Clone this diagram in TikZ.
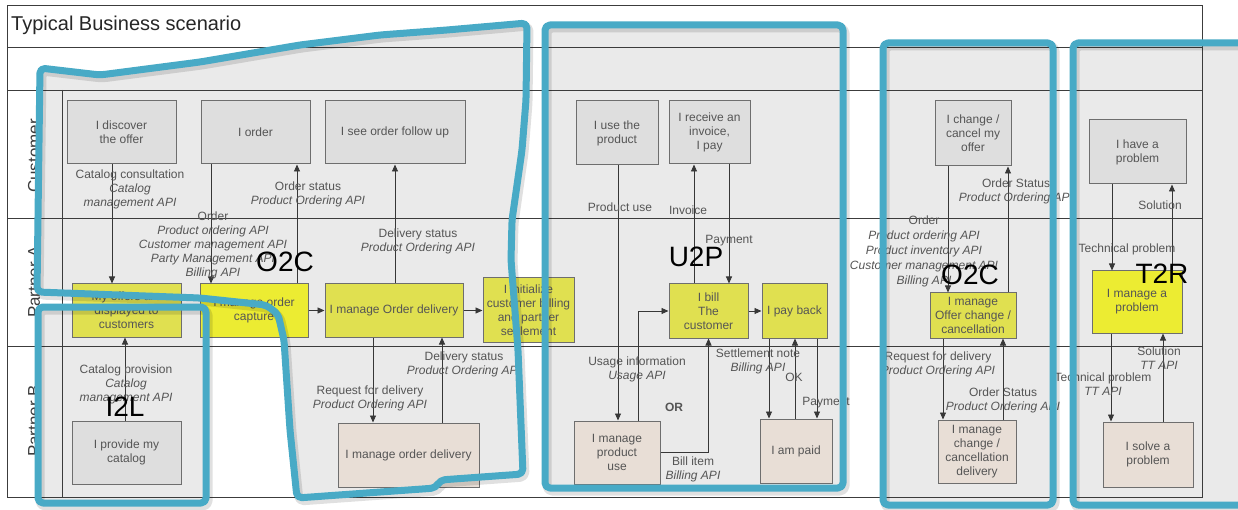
\documentclass[tikz,border=0pt]{standalone}
\usepackage{fontspec}
\setmainfont{Liberation Sans}
\usetikzlibrary{arrows.meta}
\definecolor{bluehl}{RGB}{72,170,198}
\definecolor{shadeg}{RGB}{234,234,234}
\definecolor{gboxc}{RGB}{222,222,222}
\definecolor{yboxc}{RGB}{224,224,80}
\definecolor{ybright}{RGB}{236,236,50}
\definecolor{bboxc}{RGB}{232,222,214}
\definecolor{txtc}{RGB}{85,85,85}
\definecolor{edgec}{RGB}{110,110,110}
\definecolor{gridc}{RGB}{60,60,60}
\definecolor{arrc}{RGB}{55,55,55}
\newcommand*\hlOA{(40,68) -- (100,75) -- (200,62) -- (300,45) -- (380,35) -- (447,30) -- (527,23) -- (526,100) -- (522,150) -- (512,220) -- (511,260) -- (518,350) -- (523,474) -- (440,480) -- (436,488) -- (297,498) -- (290,430) -- (284,340) -- (278,314) -- (266,305) -- (200,298) -- (37,292) -- cycle}
\newcommand*\hlIL{(38,307) rectangle (206,503)}
\newcommand*\hlUP{(545,25) rectangle (843,488)}
\newcommand*\hlOB{(883,43) rectangle (1053,505)}
\newcommand*\hlTR{(1260,43) -- (1073,43) -- (1073,505) -- (1260,505)}
\begin{document}
\begin{tikzpicture}[x=1pt,y=-1pt,
  box/.style={draw=edgec, line width=1pt, align=center, inner sep=1pt, text=txtc, font=\fontsize{12}{14}\selectfont},
  gb/.style={box, fill=gboxc},
  yb/.style={box, fill=yboxc},
  bb/.style={box, fill=bboxc},
  lbl/.style={align=center, inner sep=0pt, text=txtc, font=\fontsize{12}{14}\selectfont},
  arr/.style={draw=arrc, line width=0.9pt, -{Triangle[length=7pt,width=6pt]}},
  hl/.style={draw=bluehl, line width=7pt, rounded corners=5pt, line join=round},
  hlsh/.style={draw=black, opacity=0.12, line width=9pt, rounded corners=5pt, line join=round},
  gridl/.style={draw=gridc, line width=0.9pt},
  big/.style={font=\fontsize{28}{30}\selectfont, text=black, inner sep=0pt},
  lane/.style={font=\fontsize{17}{19}\selectfont, text=gridc, rotate=90, inner sep=0pt},
]
\useasboundingbox (0,0) rectangle (1238,510);
\begin{scope}
\clip (0,0) rectangle (1238,510);
\fill[white] (0,0) rectangle (1238,510);
\fill[shadeg] \hlOA;
\fill[shadeg] \hlIL;
\fill[shadeg] \hlUP;
\fill[shadeg] \hlOB;
\fill[shadeg] (1260,43) rectangle (1073,505);
\end{scope}

% frame and lanes
\draw[gridl] (7,5) rectangle (1202,497);
\draw[gridl] (7,47) -- (1202,47);
\draw[gridl] (7,90) -- (1202,90);
\draw[gridl] (7,218) -- (1202,218);
\draw[gridl] (7,346) -- (1202,346);
\draw[gridl] (62,90) -- (62,497);
\node[anchor=west, inner sep=0pt, font=\fontsize{20}{22}\selectfont, text=black!85] (title) at (11,25) {Typical Business scenario};
\node[lane] (lcust) at (34,156) {Customer};
\node[lane] (lpa) at (34,282) {Partner A};
\node[lane] (lpb) at (34,421) {Partner B};

% Customer lane
\node[gb, minimum width=109pt, minimum height=63pt] (disc) at (121.5,132.5) {I discover\\the offer};
\node[gb, minimum width=109pt, minimum height=63pt] (order) at (255.5,132.5) {I order};
\node[gb, minimum width=140pt, minimum height=63pt] (follow) at (395,132.5) {I see order follow up};
\node[gb, minimum width=82pt, minimum height=64pt] (use) at (617,133) {I use the\\product};
\node[gb, minimum width=81pt, minimum height=63pt] (recv) at (709.5,132.5) {I receive an\\invoice,\\I pay};
\node[gb, minimum width=76pt, minimum height=65pt] (chg) at (973,133.5) {I change /\\cancel my\\offer};
\node[gb, minimum width=97pt, minimum height=64pt] (have) at (1137.5,152) {I have a\\problem};

% Partner A lane
\node[yb, minimum width=109pt, minimum height=53pt] (offers) at (126.5,310.5) {My offers are\\displayed to\\customers};
\node[yb, fill=ybright, minimum width=108pt, minimum height=53pt] (capture) at (254,310.5) {I manage order\\capture};
\node[yb, minimum width=138pt, minimum height=53pt] (mod) at (394,310.5) {I manage Order delivery};
\node[yb, minimum width=91pt, minimum height=64pt] (init) at (528.5,310) {I initialize\\customer billing\\and partner\\settlement};
\node[yb, minimum width=79pt, minimum height=54pt] (bill) at (708.5,311) {I bill\\The\\customer};
\node[yb, minimum width=65pt, minimum height=54pt] (payback) at (794.5,311) {I pay back};
\node[yb, minimum width=86pt, minimum height=45pt] (offchg) at (973,315.5) {I manage\\Offer change /\\cancellation};
\node[yb, fill=ybright, minimum width=90pt, minimum height=62pt] (mprob) at (1137,302) {I manage a\\problem};

% Partner B lane
\node[gb, minimum width=109pt, minimum height=63pt] (prov) at (126.5,452.5) {I provide my\\catalog};
\node[bb, minimum width=141pt, minimum height=64pt] (mdel) at (408.5,455) {I manage order delivery};
\node[bb, minimum width=86pt, minimum height=63pt] (mpu) at (617,452.5) {I manage\\product\\use};
\node[bb, minimum width=72pt, minimum height=64pt] (paid) at (796,451) {I am paid};
\node[bb, minimum width=78pt, minimum height=63pt] (ccd) at (977,451.5) {I manage\\change /\\cancellation\\delivery};
\node[bb, minimum width=90pt, minimum height=65pt] (solve) at (1148,454.5) {I solve a\\problem};

% connectors
\draw[arr] (disc.south -| 112,0) -- (offers.north -| 112,0);
\draw[arr] (order.south -| 211,0) -- (capture.north -| 211,0);
\draw[arr] (capture.north -| 297,0) -- (order.south -| 297,0);
\draw[arr] (capture.east) -- (mod.west);
\draw[arr] (mod.north -| 395,0) -- (follow.south -| 395,0);
\draw[arr] (mod.east) -- (mod.east -| init.west);
\draw[arr] (mod.south -| 373,0) -- (mdel.north -| 373,0);
\draw[arr] (mdel.north -| 442,0) -- (mod.south -| 442,0);
\draw[arr] (prov.north -| 125,0) -- (offers.south -| 125,0);
\draw[arr] (use.south -| 618,0) -- (mpu.north -| 618,0);
\draw[arr] (mpu.north -| 638,0) |- (bill.west);
\draw[arr] (mpu.east) -| (bill.south);
\draw[arr] (bill.north -| 694,0) -- (recv.south -| 694,0);
\draw[arr] (recv.south -| 729,0) -- (bill.north -| 729,0);
\draw[arr] (bill.east) -- (payback.west);
\draw[arr] (payback.south -| 769,0) -- (paid.north -| 769,0);
\draw[arr] (paid.north -| 795,0) -- (payback.south -| 795,0);
\draw[arr] (payback.south -| 817,0) -- (paid.north -| 817,0);
\draw[arr] (chg.south -| 948,0) -- (offchg.north -| 948,0);
\draw[arr] (offchg.north -| 1008,0) -- (chg.south -| 1008,0);
\draw[arr] (offchg.south -| 943,0) -- (ccd.north -| 943,0);
\draw[arr] (ccd.north -| 1003,0) -- (offchg.south -| 1003,0);
\draw[arr] (have.south -| 1112,0) -- (mprob.north -| 1112,0);
\draw[arr] (mprob.north -| 1172,0) -- (have.south -| 1172,0);
\draw[arr] (mprob.south -| 1111,0) -- (solve.north -| 1111,0);
\draw[arr] (solve.north -| 1163,0) -- (mprob.south -| 1163,0);

% connector labels
\node[lbl] (l1) at (130,189) {Catalog consultation\\\textit{Catalog}\\\textit{management API}};
\node[lbl] (l2) at (213,245) {Order\\\textit{Product ordering API}\\\textit{Customer management API}\\\textit{Party Management API}\\\textit{Billing API}};
\node[lbl] (l3) at (308,194) {Order status\\\textit{Product Ordering API}};
\node[lbl] (l5) at (418,241) {Delivery status\\\textit{Product Ordering API}};
\node[lbl] (l7) at (370,398.5) {Request for delivery\\\textit{Product Ordering API}};
\node[lbl] (l8) at (464,364.5) {Delivery status\\\textit{Product Ordering API}};
\node[lbl] (l9) at (126,384) {Catalog provision\\\textit{Catalog}\\\textit{management API}};
\node[lbl] (l10) at (620,207) {Product use};
\node[lbl] (l11) at (637,369) {Usage information\\\textit{Usage API}};
\node[lbl] (l12) at (693,469) {Bill item\\\textit{Billing API}};
\node[lbl, font=\fontsize{12}{14}\selectfont\bfseries] (lor) at (674,407) {OR};
\node[lbl] (l13) at (688,210) {Invoice};
\node[lbl] (l14) at (729,241) {Payment};
\node[lbl] (l16) at (758,361.5) {Settlement note\\\textit{Billing API}};
\node[lbl] (l17) at (794,377) {OK};
\node[lbl] (l18) at (826,403) {Payment};
\node[lbl, font=\fontsize{12}{15}\selectfont] (l19) at (924,251) {Order\\\textit{Product ordering API}\\\textit{Product inventory API}\\\textit{Customer management API}\\\textit{Billing API}};
\node[lbl] (l20) at (1016,191) {Order Status\\\textit{Product Ordering API}};
\node[lbl] (l21) at (938,364.5) {Request for delivery\\\textit{Product Ordering API}};
\node[lbl] (l22) at (1003,400) {Order Status\\\textit{Product Ordering API}};
\node[lbl] (l23) at (1127,249) {Technical problem};
\node[lbl] (l24) at (1160,205) {Solution};
\node[lbl] (l25) at (1103,384.5) {Technical problem\\\textit{TT API}};
\node[lbl] (l26) at (1159,358) {Solution\\\textit{TT API}};

% hand-drawn highlight outlines
\begin{scope}
\clip (0,0) rectangle (1238,510);
\begin{scope}[shift={(2,3)}]
\draw[hlsh] \hlOA;
\draw[hlsh] \hlIL;
\draw[hlsh] \hlUP;
\draw[hlsh] \hlOB;
\draw[hlsh] \hlTR;
\end{scope}
\draw[hl] \hlOA;
\draw[hl] \hlIL;
\draw[hl] \hlUP;
\draw[hl] \hlOB;
\draw[hl] \hlTR;
\end{scope}

% process labels
\node[big] (o2ca) at (285,262) {O2C};
\node[big] (i2l) at (125,407) {I2L};
\node[big] (u2p) at (696,257) {U2P};
\node[big] (o2cb) at (970,275) {O2C};
\node[big] (t2r) at (1162,274) {T2R};
\end{tikzpicture}
\end{document}
